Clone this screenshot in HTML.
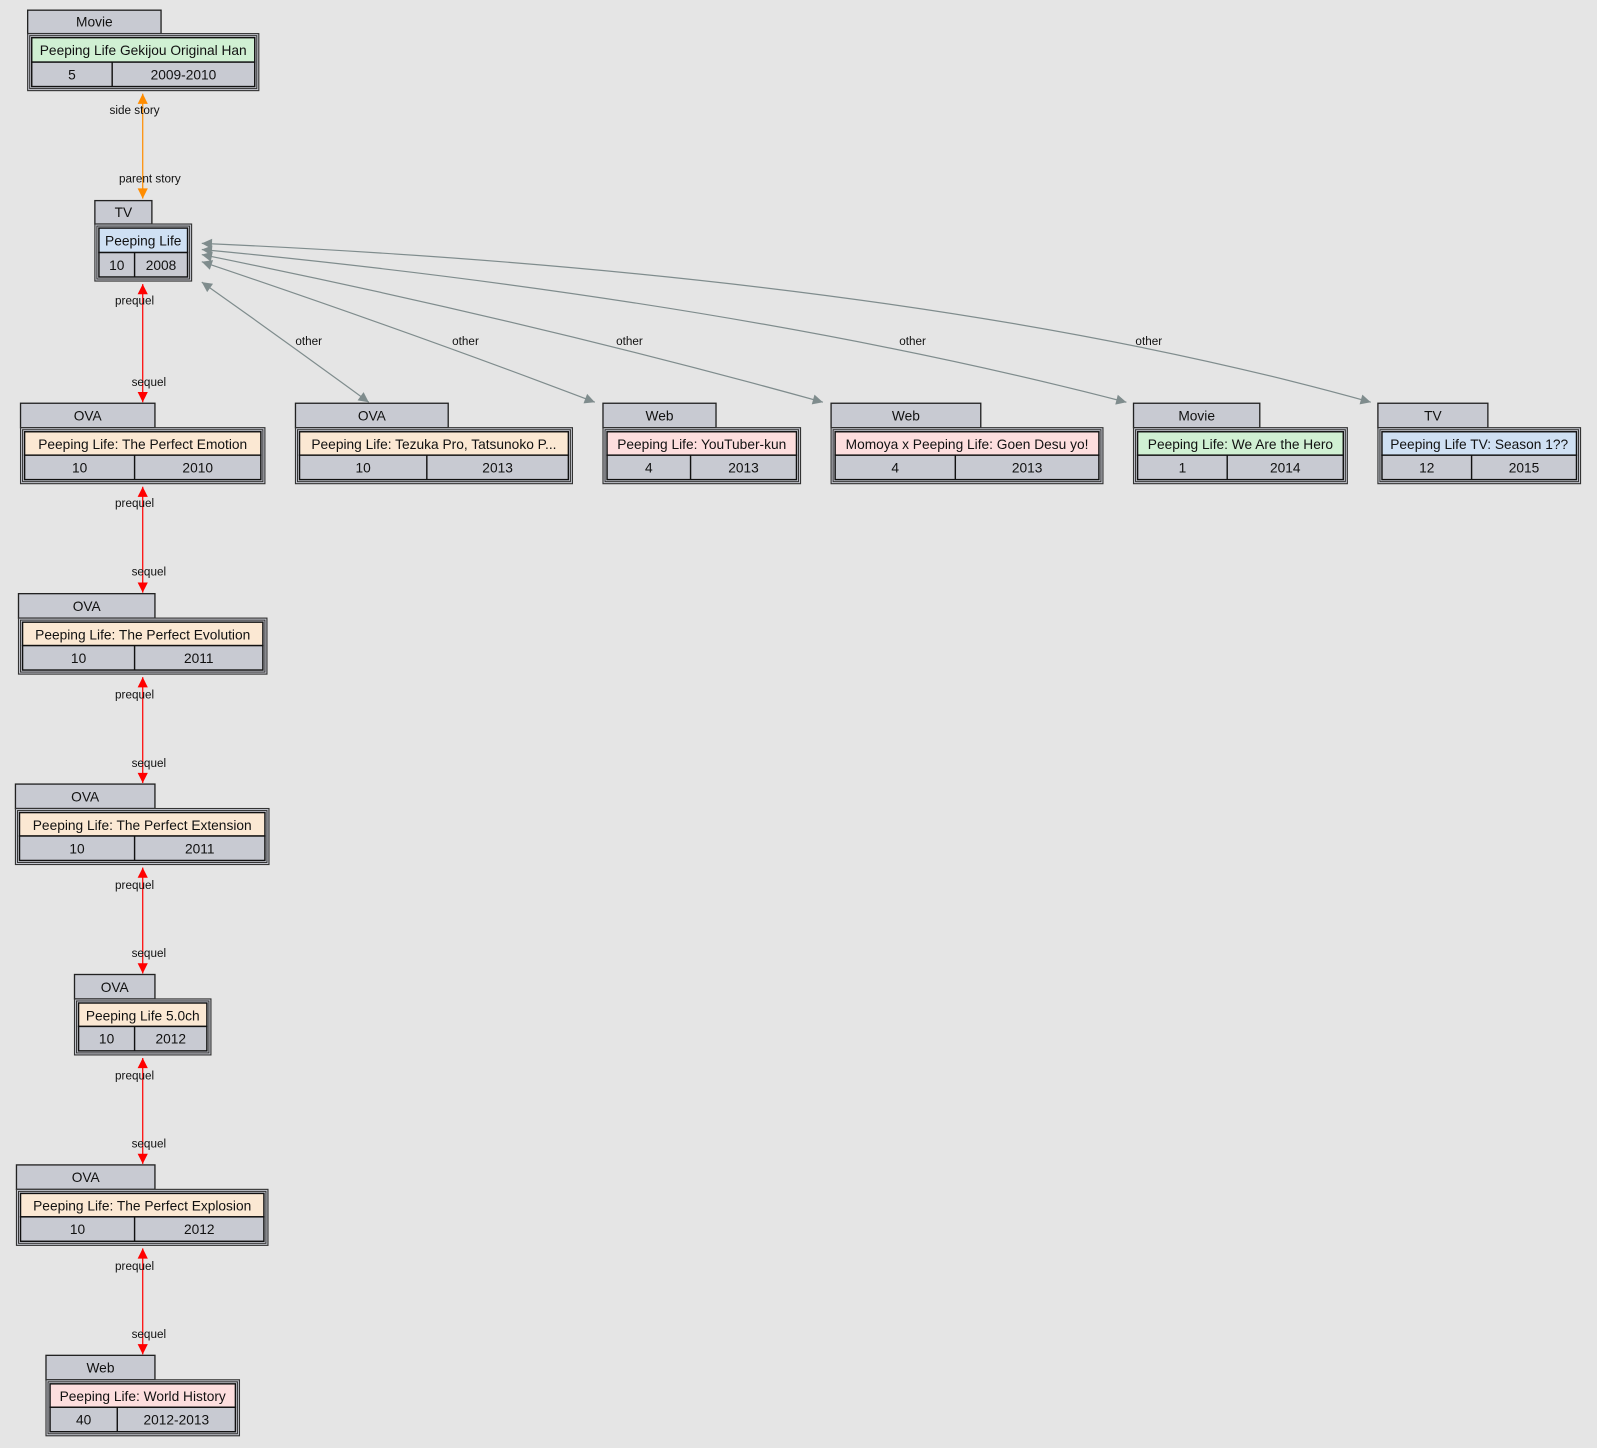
<!DOCTYPE html>
<html><head><meta charset="utf-8"><style>
html,body{margin:0;padding:0;background:#e5e5e5;}
svg{display:block;}
text{font-family:"Liberation Sans",sans-serif;}
.t{font-size:13.5px;text-anchor:middle;fill:#111;}
.e{font-size:11.5px;text-anchor:middle;fill:#111;}
.tab{fill:#c8cad2;stroke:#222;stroke-width:1.3;}
.ob{fill:#c8cad2;stroke:#333;stroke-width:1.1;}
.ib{fill:none;stroke:#333;stroke-width:1;}
.row{fill:#c8cad2;stroke:#111;stroke-width:1.4;}
.tit{stroke:#111;stroke-width:1.4;}
</style></head><body>
<svg width="1597" height="1448" viewBox="0 0 1568 1422" xmlns="http://www.w3.org/2000/svg">
<defs>
<marker id="ag" viewBox="0 0 10 10" refX="10" refY="5" markerWidth="12" markerHeight="10" orient="auto-start-reverse" markerUnits="userSpaceOnUse"><path d="M0,0 L10,5 L0,10 z" fill="#7f8c8d"/></marker>
<marker id="ar" viewBox="0 0 10 10" refX="10" refY="5" markerWidth="12" markerHeight="10" orient="auto-start-reverse" markerUnits="userSpaceOnUse"><path d="M0,0 L10,5 L0,10 z" fill="#ff0000"/></marker>
<marker id="ao" viewBox="0 0 10 10" refX="10" refY="5" markerWidth="12" markerHeight="10" orient="auto-start-reverse" markerUnits="userSpaceOnUse"><path d="M0,0 L10,5 L0,10 z" fill="#ff8c00"/></marker>
</defs>
<rect width="1568" height="1422" fill="#e5e5e5"/>

<line x1="140" y1="92" x2="140" y2="195" stroke="#ff8c00" stroke-width="1.2" marker-start="url(#ao)" marker-end="url(#ao)"/>
<text class="e" x="132" y="112">side story</text>
<text class="e" x="147" y="179">parent story</text>

<g stroke="#ff0000" stroke-width="1.2" fill="none">
<line x1="140" y1="279" x2="140" y2="395" marker-start="url(#ar)" marker-end="url(#ar)"/>
<line x1="140" y1="478" x2="140" y2="582" marker-start="url(#ar)" marker-end="url(#ar)"/>
<line x1="140" y1="665" x2="140" y2="769" marker-start="url(#ar)" marker-end="url(#ar)"/>
<line x1="140" y1="852" x2="140" y2="956" marker-start="url(#ar)" marker-end="url(#ar)"/>
<line x1="140" y1="1039" x2="140" y2="1143" marker-start="url(#ar)" marker-end="url(#ar)"/>
<line x1="140" y1="1226" x2="140" y2="1330" marker-start="url(#ar)" marker-end="url(#ar)"/>
</g>
<text class="e" x="132" y="299">prequel</text><text class="e" x="146" y="379">sequel</text>
<text class="e" x="132" y="498">prequel</text><text class="e" x="146" y="565">sequel</text>
<text class="e" x="132" y="686">prequel</text><text class="e" x="146" y="753">sequel</text>
<text class="e" x="132" y="873">prequel</text><text class="e" x="146" y="940">sequel</text>
<text class="e" x="132" y="1060">prequel</text><text class="e" x="146" y="1127">sequel</text>
<text class="e" x="132" y="1247">prequel</text><text class="e" x="146" y="1314">sequel</text>

<g stroke="#7f8c8d" stroke-width="1.2" fill="none">
<path d="M198,277 Q280,335 362,395" marker-start="url(#ag)" marker-end="url(#ag)"/>
<path d="M198,257 Q400,325 584,395" marker-start="url(#ag)" marker-end="url(#ag)"/>
<path d="M198,250 Q520,315 808,395" marker-start="url(#ag)" marker-end="url(#ag)"/>
<path d="M198,245 Q720,295 1106,395" marker-start="url(#ag)" marker-end="url(#ag)"/>
<path d="M198,239 Q900,270 1346,395" marker-start="url(#ag)" marker-end="url(#ag)"/>
</g>
<text class="e" x="303" y="339">other</text>
<text class="e" x="457" y="339">other</text>
<text class="e" x="618" y="339">other</text>
<text class="e" x="896" y="339">other</text>
<text class="e" x="1128" y="339">other</text>

<rect class="tab" x="27" y="10" width="131" height="23"/><text class="t" x="92.5" y="26">Movie</text>
<rect class="ob" x="27" y="33" width="227" height="56"/><rect class="ib" x="29" y="35" width="223" height="52"/>
<rect class="tit" x="31" y="37" width="219" height="24" fill="#d0f0d3"/><text class="t" x="140.5" y="54">Peeping Life Gekijou Original Han</text>
<rect class="row" x="31" y="61" width="219" height="24"/><line x1="110" y1="61" x2="110" y2="85" stroke="#111" stroke-width="1.4"/>
<text class="t" x="70.5" y="78">5</text><text class="t" x="180" y="78">2009-2010</text>

<rect class="tab" x="93" y="197" width="56" height="23"/><text class="t" x="121" y="213">TV</text>
<rect class="ob" x="93" y="220" width="95" height="56"/><rect class="ib" x="95" y="222" width="91" height="52"/>
<rect class="tit" x="97" y="224" width="87" height="24" fill="#cfe0f3"/><text class="t" x="140.5" y="241">Peeping Life</text>
<rect class="row" x="97" y="248" width="87" height="24"/><line x1="132" y1="248" x2="132" y2="272" stroke="#111" stroke-width="1.4"/>
<text class="t" x="114.5" y="265">10</text><text class="t" x="158" y="265">2008</text>

<rect class="tab" x="20" y="396" width="132" height="24"/><text class="t" x="86" y="413">OVA</text>
<rect class="ob" x="20" y="420" width="240" height="55"/><rect class="ib" x="22" y="422" width="236" height="51"/>
<rect class="tit" x="24" y="424" width="232" height="23" fill="#fbe8d3"/><text class="t" x="140" y="441">Peeping Life: The Perfect Emotion</text>
<rect class="row" x="24" y="447" width="232" height="24"/><line x1="132" y1="447" x2="132" y2="471" stroke="#111" stroke-width="1.4"/>
<text class="t" x="78" y="464">10</text><text class="t" x="194" y="464">2010</text>

<rect class="tab" x="290" y="396" width="150" height="24"/><text class="t" x="365" y="413">OVA</text>
<rect class="ob" x="290" y="420" width="272" height="55"/><rect class="ib" x="292" y="422" width="268" height="51"/>
<rect class="tit" x="294" y="424" width="264" height="23" fill="#fbe8d3"/><text class="t" x="426" y="441">Peeping Life: Tezuka Pro, Tatsunoko P...</text>
<rect class="row" x="294" y="447" width="264" height="24"/><line x1="419" y1="447" x2="419" y2="471" stroke="#111" stroke-width="1.4"/>
<text class="t" x="356.5" y="464">10</text><text class="t" x="488.5" y="464">2013</text>

<rect class="tab" x="592" y="396" width="111" height="24"/><text class="t" x="647.5" y="413">Web</text>
<rect class="ob" x="592" y="420" width="194" height="55"/><rect class="ib" x="594" y="422" width="190" height="51"/>
<rect class="tit" x="596" y="424" width="186" height="23" fill="#fddede"/><text class="t" x="689" y="441">Peeping Life: YouTuber-kun</text>
<rect class="row" x="596" y="447" width="186" height="24"/><line x1="678" y1="447" x2="678" y2="471" stroke="#111" stroke-width="1.4"/>
<text class="t" x="637" y="464">4</text><text class="t" x="730" y="464">2013</text>

<rect class="tab" x="816" y="396" width="147" height="24"/><text class="t" x="889.5" y="413">Web</text>
<rect class="ob" x="816" y="420" width="267" height="55"/><rect class="ib" x="818" y="422" width="263" height="51"/>
<rect class="tit" x="820" y="424" width="259" height="23" fill="#fddede"/><text class="t" x="949.5" y="441">Momoya x Peeping Life: Goen Desu yo!</text>
<rect class="row" x="820" y="447" width="259" height="24"/><line x1="938" y1="447" x2="938" y2="471" stroke="#111" stroke-width="1.4"/>
<text class="t" x="879" y="464">4</text><text class="t" x="1008.5" y="464">2013</text>

<rect class="tab" x="1113" y="396" width="124" height="24"/><text class="t" x="1175" y="413">Movie</text>
<rect class="ob" x="1113" y="420" width="210" height="55"/><rect class="ib" x="1115" y="422" width="206" height="51"/>
<rect class="tit" x="1117" y="424" width="202" height="23" fill="#d0f0d3"/><text class="t" x="1218" y="441">Peeping Life: We Are the Hero</text>
<rect class="row" x="1117" y="447" width="202" height="24"/><line x1="1205" y1="447" x2="1205" y2="471" stroke="#111" stroke-width="1.4"/>
<text class="t" x="1161" y="464">1</text><text class="t" x="1262" y="464">2014</text>

<rect class="tab" x="1353" y="396" width="108" height="24"/><text class="t" x="1407" y="413">TV</text>
<rect class="ob" x="1353" y="420" width="199" height="55"/><rect class="ib" x="1355" y="422" width="195" height="51"/>
<rect class="tit" x="1357" y="424" width="191" height="23" fill="#cfe0f3"/><text class="t" x="1452.5" y="441">Peeping Life TV: Season 1??</text>
<rect class="row" x="1357" y="447" width="191" height="24"/><line x1="1445" y1="447" x2="1445" y2="471" stroke="#111" stroke-width="1.4"/>
<text class="t" x="1401" y="464">12</text><text class="t" x="1496.5" y="464">2015</text>

<rect class="tab" x="18" y="583" width="134" height="24"/><text class="t" x="85" y="600">OVA</text>
<rect class="ob" x="18" y="607" width="244" height="55"/><rect class="ib" x="20" y="609" width="240" height="51"/>
<rect class="tit" x="22" y="611" width="236" height="23" fill="#fbe8d3"/><text class="t" x="140" y="628">Peeping Life: The Perfect Evolution</text>
<rect class="row" x="22" y="634" width="236" height="24"/><line x1="132" y1="634" x2="132" y2="658" stroke="#111" stroke-width="1.4"/>
<text class="t" x="77" y="651">10</text><text class="t" x="195" y="651">2011</text>

<rect class="tab" x="15" y="770" width="137" height="24"/><text class="t" x="83.5" y="787">OVA</text>
<rect class="ob" x="15" y="794" width="249" height="55"/><rect class="ib" x="17" y="796" width="245" height="51"/>
<rect class="tit" x="19" y="798" width="241" height="23" fill="#fbe8d3"/><text class="t" x="139.5" y="815">Peeping Life: The Perfect Extension</text>
<rect class="row" x="19" y="821" width="241" height="24"/><line x1="132" y1="821" x2="132" y2="845" stroke="#111" stroke-width="1.4"/>
<text class="t" x="75.5" y="838">10</text><text class="t" x="196" y="838">2011</text>

<rect class="tab" x="73" y="957" width="79" height="24"/><text class="t" x="112.5" y="974">OVA</text>
<rect class="ob" x="73" y="981" width="134" height="55"/><rect class="ib" x="75" y="983" width="130" height="51"/>
<rect class="tit" x="77" y="985" width="126" height="23" fill="#fbe8d3"/><text class="t" x="140" y="1002">Peeping Life 5.0ch</text>
<rect class="row" x="77" y="1008" width="126" height="24"/><line x1="132" y1="1008" x2="132" y2="1032" stroke="#111" stroke-width="1.4"/>
<text class="t" x="104.5" y="1025">10</text><text class="t" x="167.5" y="1025">2012</text>

<rect class="tab" x="16" y="1144" width="136" height="24"/><text class="t" x="84" y="1161">OVA</text>
<rect class="ob" x="16" y="1168" width="247" height="55"/><rect class="ib" x="18" y="1170" width="243" height="51"/>
<rect class="tit" x="20" y="1172" width="239" height="23" fill="#fbe8d3"/><text class="t" x="139.5" y="1189">Peeping Life: The Perfect Explosion</text>
<rect class="row" x="20" y="1195" width="239" height="24"/><line x1="132" y1="1195" x2="132" y2="1219" stroke="#111" stroke-width="1.4"/>
<text class="t" x="76" y="1212">10</text><text class="t" x="195.5" y="1212">2012</text>

<rect class="tab" x="45" y="1331" width="107" height="24"/><text class="t" x="98.5" y="1348">Web</text>
<rect class="ob" x="45" y="1355" width="190" height="55"/><rect class="ib" x="47" y="1357" width="186" height="51"/>
<rect class="tit" x="49" y="1359" width="182" height="23" fill="#fddede"/><text class="t" x="140" y="1376">Peeping Life: World History</text>
<rect class="row" x="49" y="1382" width="182" height="24"/><line x1="115" y1="1382" x2="115" y2="1406" stroke="#111" stroke-width="1.4"/>
<text class="t" x="82" y="1399">40</text><text class="t" x="173" y="1399">2012-2013</text>
</svg>
</body></html>
